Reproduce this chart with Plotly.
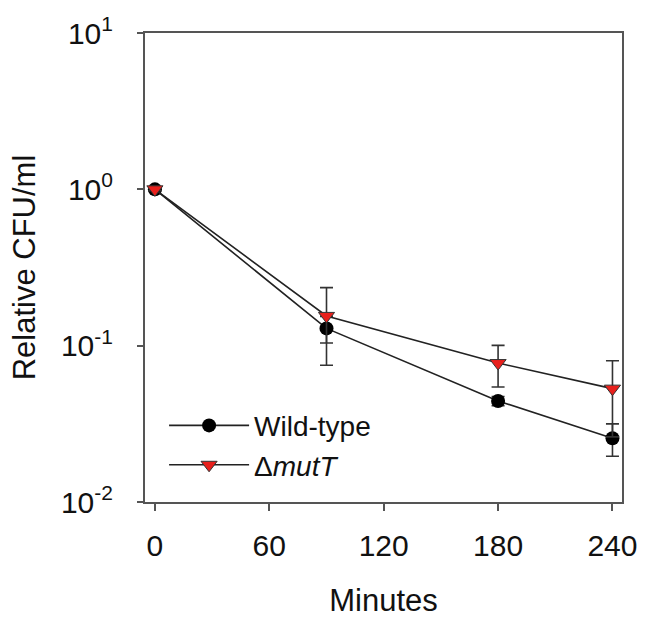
import plotly.graph_objects as go

minutes = [0, 90, 180, 240]
wt = [1.0, 0.129, 0.0443, 0.0256]
wt_err = [0.02, 0.025, 0.003, 0.006]
mut = [1.0, 0.155, 0.0774, 0.0531]
mut_err = [0.02, 0.08, 0.023, 0.027]

xticks = [0, 60, 120, 180, 240]
yticks = [0.01, 0.1, 1, 10]
yticktext = ["10<sup>-2</sup>", "10<sup>-1</sup>", "10<sup>0</sup>", "10<sup>1</sup>"]

FONT = "Liberation Sans, Arial, sans-serif"
fig = go.Figure()
fig.add_trace(go.Scatter(
    x=minutes, y=wt, name="Wild-type", mode="lines+markers",
    line=dict(color="#222222", width=1.6),
    marker=dict(symbol="circle", size=14, color="black"),
    error_y=dict(type="data", array=wt_err, color="#333333", thickness=1.6, width=6.5),
))
fig.add_trace(go.Scatter(
    x=minutes, y=mut, name="Δ<i>mutT</i>", mode="lines+markers",
    line=dict(color="#222222", width=1.6),
    marker=dict(symbol="triangle-down", size=14, color="#e8201c",
                line=dict(color="#333333", width=1)),
    error_y=dict(type="data", array=mut_err, color="#333333", thickness=1.6, width=6.5),
))

fig.update_layout(
    width=649, height=624,
    margin=dict(l=145, r=23, t=24, b=119),
    paper_bgcolor="white", plot_bgcolor="white",
    font=dict(family=FONT, color="#111111", size=30),
    showlegend=True,
    legend=dict(x=0.04, y=0.216, xanchor="left", yanchor="top",
                bgcolor="rgba(0,0,0,0)", font=dict(size=28),
                itemwidth=80, tracegroupgap=0),
    xaxis=dict(
        range=[-5.2, 245], tickvals=xticks, ticks="outside", ticklen=7,
        tickwidth=1.6, tickcolor="#555555",
        showline=True, linecolor="#555555", linewidth=2, mirror=True,
        showgrid=False, zeroline=False,
        tickfont=dict(size=30), ticklabelstandoff=9,
        title=dict(text="Minutes", font=dict(size=31), standoff=28),
    ),
    yaxis=dict(
        type="log", range=[-2, 1], tickvals=yticks, ticktext=yticktext,
        ticks="outside", ticklen=6, tickwidth=1.6, tickcolor="#555555",
        showline=True, linecolor="#555555", linewidth=2, mirror=True,
        showgrid=False, zeroline=False,
        tickfont=dict(size=30), ticklabelstandoff=18,
        title=dict(text="Relative CFU/ml", font=dict(size=31), standoff=16),
    ),
)
fig.write_html(
    "out.html",
    config={"displayModeBar": False},
    post_script="document.body.style.margin='0';document.body.style.overflow='hidden';",
)
